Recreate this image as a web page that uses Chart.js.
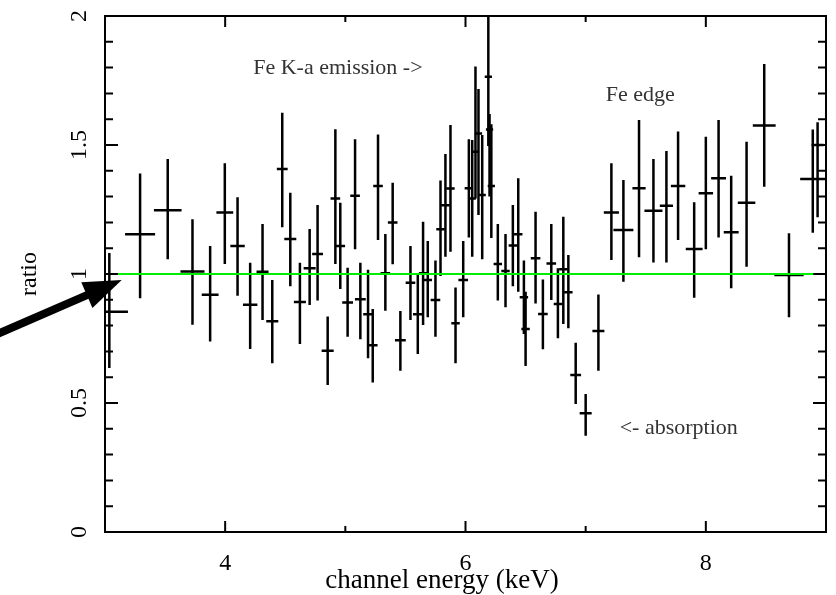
<!DOCTYPE html>
<html>
<head>
<meta charset="utf-8">
<script src="https://cdn.jsdelivr.net/npm/chart.js@4.4.1/dist/chart.umd.min.js"></script>
<style>
  html, body { margin: 0; padding: 0; background: #fff; }
  #wrap { width: 836px; height: 595px; }
</style>
</head>
<body>
<div id="wrap"><canvas id="ratioChart" width="836" height="595"></canvas></div>
<script>
// channel energy (keV), half bin width, data/model ratio and its error range
var energy    = [3.036, 3.292, 3.522, 3.728, 3.875, 3.997, 4.103, 4.208, 4.311, 4.392,
                 4.475, 4.542, 4.622, 4.703, 4.769, 4.853, 4.917, 4.958, 5.019, 5.081,
                 5.125, 5.189, 5.228, 5.272, 5.333, 5.394, 5.458, 5.542, 5.603, 5.647,
                 5.686, 5.750, 5.792, 5.833, 5.875, 5.917, 5.981, 6.028, 6.056, 6.083,
                 6.108, 6.139, 6.190, 6.200, 6.215, 6.269, 6.333, 6.394, 6.439, 6.486,
                 6.500, 6.583, 6.644, 6.714, 6.769, 6.814, 6.856, 6.917, 7.000, 7.106,
                 7.214, 7.314, 7.444, 7.564, 7.672, 7.769, 7.903, 8.000, 8.106, 8.211,
                 8.339, 8.486, 8.692, 8.890, 8.930];
var energyErr = [0.155, 0.125, 0.115, 0.100, 0.070, 0.070, 0.060, 0.060, 0.050, 0.050,
                 0.045, 0.050, 0.050, 0.050, 0.045, 0.050, 0.040, 0.040, 0.045, 0.040,
                 0.045, 0.040, 0.040, 0.040, 0.040, 0.040, 0.045, 0.040, 0.040, 0.035,
                 0.035, 0.040, 0.035, 0.035, 0.035, 0.035, 0.040, 0.035, 0.030, 0.030,
                 0.030, 0.030, 0.030, 0.030, 0.030, 0.035, 0.035, 0.035, 0.035, 0.035,
                 0.035, 0.040, 0.040, 0.040, 0.035, 0.035, 0.035, 0.045, 0.050, 0.050,
                 0.063, 0.083, 0.055, 0.075, 0.055, 0.060, 0.070, 0.060, 0.062, 0.062,
                 0.073, 0.095, 0.122, 0.105, 0.050];
var ratio     = [0.854, 1.154, 1.247, 1.010, 0.920, 1.238, 1.109, 0.881, 1.009, 0.817,
                 1.407, 1.136, 0.891, 1.022, 1.078, 0.703, 1.293, 1.109, 0.890, 1.303,
                 0.902, 0.844, 0.724, 1.341, 1.003, 1.200, 0.743, 0.966, 0.844, 1.003,
                 0.977, 0.899, 1.173, 1.266, 1.331, 0.809, 0.977, 1.332, 1.293, 1.474,
                 1.545, 1.306, 1.765, 1.560, 1.341, 1.039, 1.012, 1.110, 1.154, 0.910,
                 0.787, 1.061, 0.845, 1.041, 0.884, 1.018, 0.929, 0.609, 0.460, 0.779,
                 1.238, 1.171, 1.332, 1.245, 1.265, 1.341, 1.097, 1.313, 1.371, 1.162,
                 1.276, 1.576, 0.996, 1.368, 1.500];
var ratioHigh = [1.081, 1.390, 1.446, 1.212, 1.109, 1.429, 1.297, 1.044, 1.194, 0.977,
                 1.625, 1.315, 1.044, 1.174, 1.267, 0.835, 1.561, 1.276, 1.024, 1.522,
                 1.044, 1.016, 0.864, 1.541, 1.155, 1.354, 0.857, 1.109, 1.003, 1.203,
                 1.128, 1.052, 1.362, 1.465, 1.578, 0.948, 1.128, 1.522, 1.519, 1.804,
                 1.717, 1.539, 2.100, 1.620, 1.580, 1.194, 1.155, 1.267, 1.371, 1.052,
                 0.931, 1.241, 0.979, 1.194, 1.022, 1.222, 1.074, 0.734, 0.535, 0.921,
                 1.429, 1.364, 1.597, 1.446, 1.477, 1.552, 1.278, 1.532, 1.597, 1.381,
                 1.513, 1.814, 1.158, 1.560, 1.588];
var ratioLow  = [0.636, 0.906, 1.057, 0.803, 0.738, 1.039, 0.916, 0.709, 0.822, 0.654,
                 1.181, 0.953, 0.729, 0.880, 0.897, 0.570, 1.039, 0.942, 0.757, 1.096,
                 0.747, 0.673, 0.579, 1.132, 0.858, 1.038, 0.625, 0.822, 0.690, 0.802,
                 0.832, 0.757, 0.992, 1.067, 1.086, 0.654, 0.832, 1.141, 1.067, 1.293,
                 1.229, 1.057, 1.496, 1.300, 1.140, 0.897, 0.871, 0.953, 0.931, 0.767,
                 0.643, 0.886, 0.708, 0.899, 0.751, 0.806, 0.790, 0.496, 0.373, 0.625,
                 1.054, 0.970, 1.065, 1.045, 1.045, 1.132, 0.908, 1.096, 1.141, 0.945,
                 1.028, 1.338, 0.832, 1.160, 1.220];

// model (ratio = 1) line
var modelLine = [{x: 3, y: 1}, {x: 9, y: 1}];

// ticks
var xTicks = [4, 6, 8];
var xMinorTicks = [5, 7];
var yTicks = [0, 0.5, 1, 1.5, 2];
var yMinorTicks = [0.1, 0.2, 0.3, 0.4, 0.6, 0.7, 0.8, 0.9, 1.1, 1.2, 1.3, 1.4, 1.6, 1.7, 1.8, 1.9];

// notes on the plot, in data units
var notes = [
     {text: 'Fe K-a emission ->', x: 4.233, y: 1.798},
     {text: 'Fe edge', x: 7.167, y: 1.694},
     {text: '<- absorption', x: 7.283, y: 0.403}
];
var arrowFrom = [2.0, 0.746];
var arrowTo = [3.139, 0.977];

var serif = '"Liberation Serif", "DejaVu Serif", serif';

var errorBars = {
     id: 'errorBars',
     beforeDatasetsDraw: function(chart) {
          var ctx = chart.ctx, a = chart.chartArea, xs = chart.scales.x, ys = chart.scales.y;
          ctx.save();
          ctx.beginPath();
          ctx.rect(a.left, a.top, a.right - a.left, a.bottom - a.top);
          ctx.clip();
          ctx.strokeStyle = '#000';
          ctx.lineWidth = 2.5;
          for (var i = 0; i < energy.length; i++) {
               var px = xs.getPixelForValue(energy[i]);
               var py = ys.getPixelForValue(ratio[i]);
               ctx.beginPath();
               ctx.moveTo(xs.getPixelForValue(energy[i] - energyErr[i]), py);
               ctx.lineTo(xs.getPixelForValue(energy[i] + energyErr[i]), py);
               ctx.moveTo(px, ys.getPixelForValue(ratioHigh[i]));
               ctx.lineTo(px, ys.getPixelForValue(ratioLow[i]));
               ctx.stroke();
          }
          ctx.restore();
     }
};

var frameAndNotes = {
     id: 'frameAndNotes',
     afterDraw: function(chart) {
          var ctx = chart.ctx, a = chart.chartArea, xs = chart.scales.x, ys = chart.scales.y;
          ctx.save();
          ctx.strokeStyle = '#000';
          ctx.lineWidth = 2;
          ctx.strokeRect(a.left, a.top, a.right - a.left, a.bottom - a.top);

          // inward ticks on all four sides
          ctx.beginPath();
          function xTick(v, len) {
               var p = xs.getPixelForValue(v);
               ctx.moveTo(p, a.bottom); ctx.lineTo(p, a.bottom - len);
               ctx.moveTo(p, a.top); ctx.lineTo(p, a.top + len);
          }
          function yTick(v, len) {
               var p = ys.getPixelForValue(v);
               ctx.moveTo(a.left, p); ctx.lineTo(a.left + len, p);
               ctx.moveTo(a.right, p); ctx.lineTo(a.right - len, p);
          }
          xTicks.forEach(function(v) { xTick(v, 11); });
          xMinorTicks.forEach(function(v) { xTick(v, 6); });
          yTicks.forEach(function(v) { yTick(v, 13); });
          yMinorTicks.forEach(function(v) { yTick(v, 8); });
          ctx.stroke();

          // rotated y tick labels
          ctx.fillStyle = '#000';
          ctx.font = '24px ' + serif;
          ctx.textAlign = 'center';
          ctx.textBaseline = 'middle';
          yTicks.forEach(function(v) {
               ctx.save();
               ctx.translate(80, ys.getPixelForValue(v));
               ctx.rotate(-Math.PI / 2);
               ctx.fillText(String(v), 0, 0);
               ctx.restore();
          });

          // x axis title, sits a little left of the plot centre
          ctx.font = '27px ' + serif;
          ctx.fillText('channel energy (keV)', 442, 581);

          // notes
          ctx.fillStyle = '#333';
          ctx.font = '22px ' + serif;
          ctx.textAlign = 'left';
          notes.forEach(function(n) {
               ctx.fillText(n.text, xs.getPixelForValue(n.x), ys.getPixelForValue(n.y));
          });

          // arrow
          var x0 = xs.getPixelForValue(arrowFrom[0]), y0 = ys.getPixelForValue(arrowFrom[1]);
          var x1 = xs.getPixelForValue(arrowTo[0]), y1 = ys.getPixelForValue(arrowTo[1]);
          var ang = Math.atan2(y1 - y0, x1 - x0);
          var headLen = 38, headHalf = 14;
          var bx = x1 - headLen * Math.cos(ang), by = y1 - headLen * Math.sin(ang);
          ctx.strokeStyle = '#000';
          ctx.lineWidth = 8;
          ctx.beginPath();
          ctx.moveTo(x0, y0);
          ctx.lineTo(bx + 2 * Math.cos(ang), by + 2 * Math.sin(ang));
          ctx.stroke();
          ctx.fillStyle = '#000';
          ctx.beginPath();
          ctx.moveTo(x1, y1);
          ctx.lineTo(bx - headHalf * Math.sin(ang), by + headHalf * Math.cos(ang));
          ctx.lineTo(bx + headHalf * Math.sin(ang), by - headHalf * Math.cos(ang));
          ctx.closePath();
          ctx.fill();
          ctx.restore();
     }
};

new Chart(document.getElementById('ratioChart'), {
     type: 'scatter',
     data: {
          datasets: [
               {
                    label: 'ratio',
                    data: energy.map(function(e, i) { return {x: e, y: ratio[i]}; }),
                    pointRadius: 0,
                    showLine: false
               },
               {
                    label: 'model',
                    data: modelLine,
                    showLine: true,
                    borderColor: '#00ee00',
                    borderWidth: 2,
                    pointRadius: 0,
                    fill: false
               }
          ]
     },
     options: {
          responsive: false,
          animation: false,
          layout: { padding: { top: 16, right: 10, left: 0, bottom: 0 } },
          plugins: {
               legend: { display: false },
               tooltip: { enabled: false }
          },
          scales: {
               x: {
                    type: 'linear',
                    min: 3,
                    max: 9,
                    afterBuildTicks: function(s) { s.ticks = xTicks.map(function(v) { return {value: v}; }); },
                    afterFit: function(s) { s.height = 63; },
                    grid: { display: false },
                    border: { display: false },
                    ticks: { color: '#000', padding: 9, maxRotation: 0, font: { family: serif, size: 24 } },
                    title: { display: false }
               },
               y: {
                    type: 'linear',
                    min: 0,
                    max: 2,
                    afterFit: function(s) { s.width = 105; },
                    grid: { display: false },
                    border: { display: false },
                    ticks: { display: false },
                    title: {
                         display: true,
                         text: 'ratio',
                         color: '#000',
                         padding: { top: 18, bottom: 0 },
                         font: { family: serif, size: 24, lineHeight: 1.0 }
                    }
               }
          }
     },
     plugins: [errorBars, frameAndNotes]
});
</script>
</body>
</html>
